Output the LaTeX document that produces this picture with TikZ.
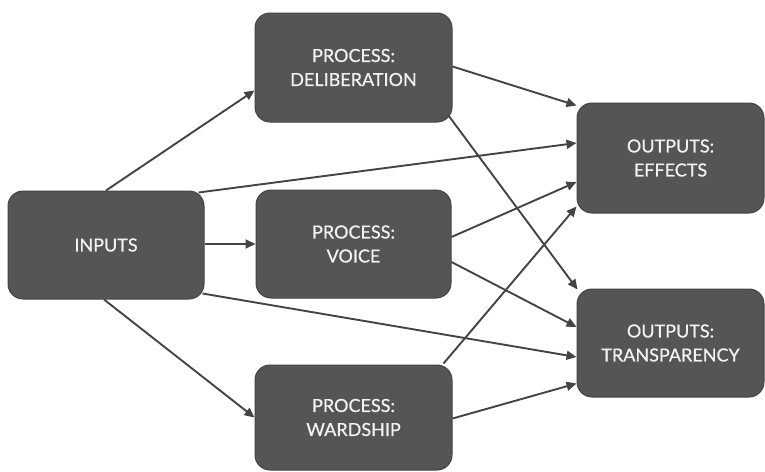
\documentclass[tikz,border=0pt]{standalone}
\usepackage{fontspec}
\setmainfont{Lato}[FakeBold=0.6,BoldFont=Lato]
\usetikzlibrary{arrows.meta}
\definecolor{boxfill}{HTML}{555555}
\definecolor{boxline}{HTML}{444444}
\definecolor{arr}{HTML}{444444}
\definecolor{txt}{HTML}{F2F2F2}
\tikzset{
  box/.style={draw=boxline, line width=1pt, fill=boxfill, rounded corners=15pt,
    text=txt, align=center, inner sep=0pt,
    font=\fontsize{18}{24}\selectfont\bfseries},
  conn/.style={draw=arr, line width=1.9pt, -{Triangle[length=10pt,width=9pt]}}
}
\begin{document}
\begin{tikzpicture}[x=1pt,y=-1pt]
\useasboundingbox (0,0) rectangle (765,471);
\node[box, minimum width=196pt, minimum height=108pt] (inputs) at (106,245) {INPUTS};
\node[box, minimum width=197pt, minimum height=109pt] (delib) at (353.5,67.5) {PROCESS:\\DELIBERATION};
\node[box, minimum width=195pt, minimum height=108pt] (voice) at (353.5,244) {PROCESS:\\VOICE};
\node[box, minimum width=197pt, minimum height=105pt] (ward) at (353.5,417.5) {PROCESS:\\WARDSHIP};
\node[box, minimum width=187pt, minimum height=110pt] (effects) at (670.5,158) {OUTPUTS:\\EFFECTS};
\node[box, minimum width=187pt, minimum height=108pt] (trans) at (670.5,343) {OUTPUTS:\\TRANSPARENCY};

\draw[conn] (inputs.north) -- ([yshift=-23pt]delib.west);
\draw[conn] ([xshift=-6pt,yshift=-2pt]inputs.north east) -- ([yshift=15pt]effects.west);
\draw[conn] ([yshift=1pt]inputs.east) -- ([yshift=1pt]inputs.east -| voice.west);
\draw[conn] ([xshift=-2pt,yshift=6pt]inputs.south east) -- ([yshift=-14pt]trans.west);
\draw[conn] ([xshift=-2pt]inputs.south) -- (ward.west);
\draw[conn] ([yshift=1pt]delib.east) -- ([yshift=-3pt]effects.north west);
\draw[conn] ([xshift=-4pt,yshift=7pt]delib.south east) -- ([xshift=1pt,yshift=-1pt]trans.north west);
\draw[conn] ([yshift=7pt]voice.east) -- ([yshift=-24pt]effects.west);
\draw[conn] ([yshift=-18pt]voice.east) -- ([yshift=16pt]trans.west);
\draw[conn] ([xshift=-9pt,yshift=1pt]ward.north east) -- ([yshift=7pt]effects.south west);
\draw[conn] ([yshift=-1pt]ward.east) -- ([yshift=14pt]trans.south west);
\end{tikzpicture}
\end{document}
